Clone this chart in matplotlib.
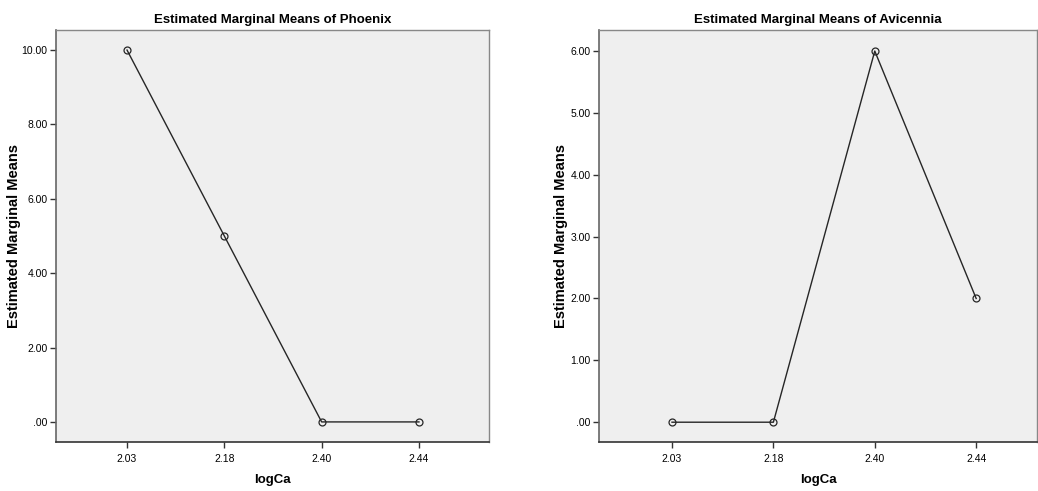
import matplotlib
matplotlib.use("Agg")
import matplotlib.pyplot as plt
import matplotlib.ticker as mtick

# logCa categories shared by both panels
categories = ["2.03", "2.18", "2.40", "2.44"]
phoenix = [10.0, 5.0, 0.0, 0.0]
avicennia = [0.0, 0.0, 6.0, 2.0]

phoenix_ticks = [0, 2, 4, 6, 8, 10]
avicennia_ticks = [0, 1, 2, 3, 4, 5, 6]

FONT = ["Liberation Sans", "DejaVu Sans"]
BG = "#efefef"
LINE = "#262626"


def fmt(v, pos=None):
    s = f"{v:.2f}"
    return s[1:] if s.startswith("0") else s


def draw_panel(ax, values, yticks, ylim, xlim, title, ylab_x):
    x = list(range(len(categories)))
    ax.set_facecolor(BG)
    ax.plot(x, values, color=LINE, lw=1.0, marker="o", ms=5,
            mfc="none", mec=LINE, mew=0.9)
    ax.set_xlim(xlim)
    ax.set_ylim(ylim)
    ax.set_xticks(x)
    ax.set_xticklabels(categories, family=FONT, fontsize=7.5)
    ax.set_yticks(yticks)
    ax.yaxis.set_major_formatter(mtick.FuncFormatter(fmt))
    for lab in ax.get_yticklabels():
        lab.set_family(FONT)
        lab.set_fontsize(7.5)
    ax.tick_params(axis="both", direction="out", length=4, width=1.0,
                   color="#333333", pad=2)
    ax.tick_params(axis="x", pad=5)
    ax.spines["bottom"].set_color("#333333")
    ax.spines["bottom"].set_linewidth(1.2)
    ax.spines["left"].set_color("#666666")
    ax.spines["left"].set_linewidth(1.2)
    for side in ["top", "right"]:
        ax.spines[side].set_color("#888888")
        ax.spines[side].set_linewidth(1.0)
    ax.set_title(title, family=FONT, fontsize=9.5, weight="bold", pad=5)
    ax.set_xlabel("logCa", family=FONT, fontsize=9.5, weight="bold")
    ax.xaxis.set_label_coords(0.5, -0.078)
    ax.set_ylabel("Estimated Marginal Means", family=FONT,
                  fontsize=10.5, weight="bold")
    ax.yaxis.set_label_coords(ylab_x, 0.5)


fig = plt.figure(figsize=(10.38, 4.91), dpi=100)
W, H = 1038, 491

ax1 = fig.add_axes([56 / W, 1 - 442 / H, (489 - 56) / W, (442 - 30) / H])
draw_panel(ax1, phoenix, phoenix_ticks, (-0.54, 10.54), (-0.73, 3.72),
           "Estimated Marginal Means of Phoenix", -0.081)

ax2 = fig.add_axes([599 / W, 1 - 442 / H, (1037 - 599) / W, (442 - 30) / H])
draw_panel(ax2, avicennia, avicennia_ticks, (-0.32, 6.34), (-0.72, 3.6),
           "Estimated Marginal Means of Avicennia", -0.071)

fig.savefig("out.png", dpi=100, facecolor="white")
